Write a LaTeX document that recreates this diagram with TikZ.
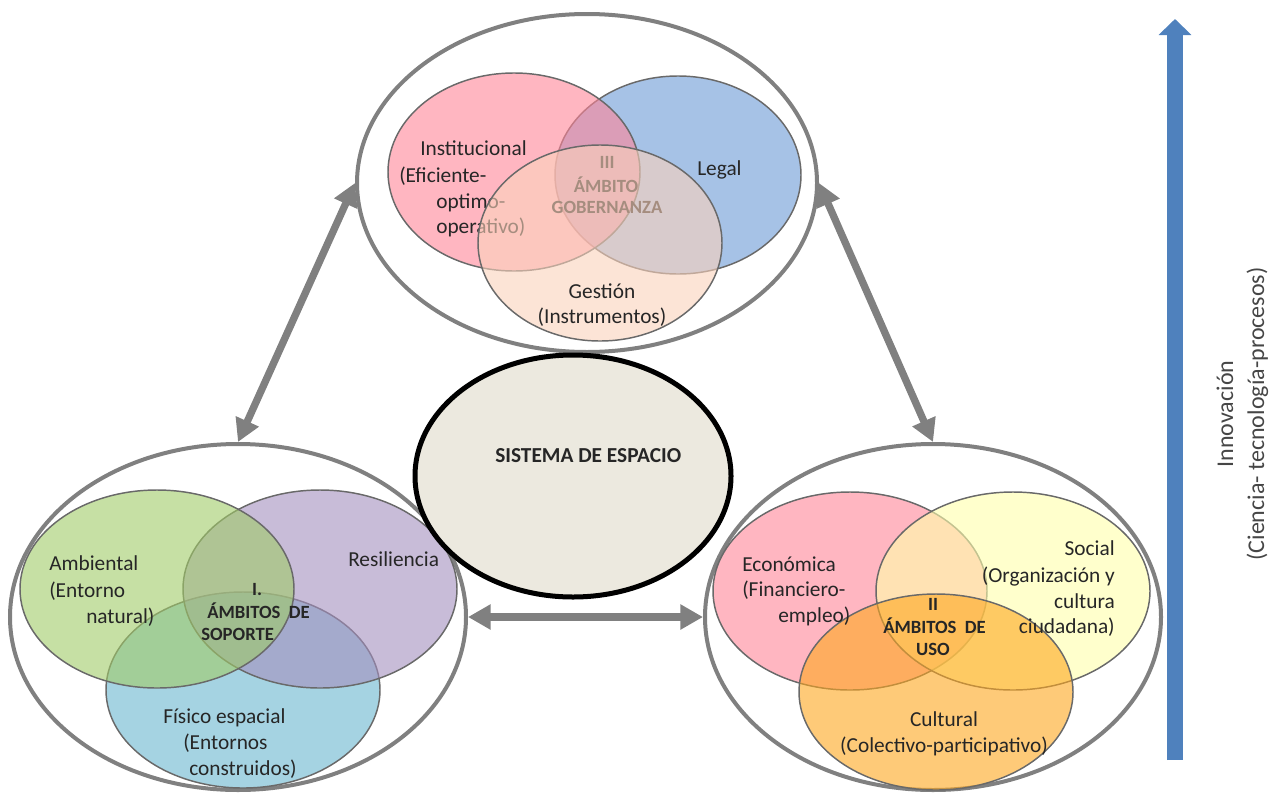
\documentclass[tikz,border=0pt]{standalone}
\usepackage{fontspec}
\setmainfont{Carlito}
\usetikzlibrary{shapes.geometric,arrows.meta}

\definecolor{outergray}{RGB}{128,128,128}
\definecolor{innerline}{RGB}{105,105,105}
\definecolor{cPink}{RGB}{255,133,152}
\definecolor{cBlue}{RGB}{107,153,213}
\definecolor{cPeach}{RGB}{250,210,187}
\definecolor{cGreen}{RGB}{160,203,103}
\definecolor{cPurple}{RGB}{163,143,190}
\definecolor{cSky}{RGB}{105,182,207}
\definecolor{cYellow}{RGB}{255,255,170}
\definecolor{cOrange}{RGB}{254,167,30}
\definecolor{centerfill}{RGB}{236,233,223}
\definecolor{txt}{RGB}{38,38,38}
\definecolor{innovtxt}{RGB}{70,70,70}
\definecolor{innov}{RGB}{79,129,189}

\tikzset{
  outerell/.style={ellipse, draw=outergray, line width=3pt, inner sep=0pt},
  venn/.style={ellipse, draw=innerline, line width=1.1pt, fill opacity=0.6, inner sep=0pt},
  lbl/.style={font=\fontsize{16}{19}\selectfont, text=txt, inner sep=0pt},
  blbl/.style={font=\bfseries\fontsize{14}{17}\selectfont, text=txt, inner sep=0pt},
  link/.style={draw=outergray, line width=5.5pt,
    {Triangle[length=17pt,width=18pt]}-{Triangle[length=17pt,width=18pt]}},
}

\begin{document}
\begin{tikzpicture}[x=0.75pt,y=-0.75pt]
\useasboundingbox (0,0) rectangle (1280,796);

% ---------- top group: gobernanza ----------
\node[outerell, minimum width=345pt, minimum height=253.5pt] (gov) at (587,183) {};
\node[venn, fill=cBlue, minimum width=184.5pt, minimum height=148.5pt] (legal) at (678,175) {};
\node[venn, fill=cPink, minimum width=189pt, minimum height=148.5pt] (inst) at (514,172) {};
\node[lbl, anchor=base west] (instA) at (420,155) {Institucional};
\node[lbl, anchor=base west] (instB) at (399,182) {(Eficiente-};
\node[lbl, anchor=base west] (instC) at (436,208) {optimo-};
\node[lbl, anchor=base west] (instD) at (436,233) {operativo)};
\node[lbl, anchor=base west] (legalT) at (697,175) {Legal};
\node[blbl, anchor=base] (govA) at (607,168) {III};
\node[blbl, anchor=base] (govB) at (606,192) {ÁMBITO};
\node[blbl, anchor=base] (govC) at (607,213) {GOBERNANZA};
\node[venn, fill=cPeach, minimum width=183pt, minimum height=147pt] (gest) at (600,243) {};
\node[lbl, anchor=base] (gestA) at (602,298) {Gestión};
\node[lbl, anchor=base] (gestB) at (602,323) {(Instrumentos)};

% ---------- left group: soporte ----------
\node[outerell, minimum width=342pt, minimum height=259.5pt] (sop) at (238,617) {};
\node[venn, fill=cSky, minimum width=205.5pt, minimum height=147pt] (fis) at (243,690) {};
\node[venn, fill=cPurple, minimum width=205.5pt, minimum height=148.5pt] (res) at (320,589) {};
\node[venn, fill=cGreen, minimum width=205.5pt, minimum height=148.5pt] (amb) at (157,589) {};
\node[lbl, anchor=base west] (ambA) at (49,570) {Ambiental};
\node[lbl, anchor=base west] (ambB) at (49,597) {(Entorno};
\node[lbl, anchor=base west] (ambC) at (86,623) {natural)};
\node[lbl, anchor=base west] (resT) at (348,566) {Resiliencia};
\node[blbl, anchor=base] (sopA) at (257,595) {I.};
\node[blbl, anchor=base west] (sopB) at (207,618) {ÁMBITOS\ \ DE};
\node[blbl, anchor=base west] (sopC) at (201,640) {SOPORTE};
\node[lbl, anchor=base west] (fisA) at (163,723) {Físico espacial};
\node[lbl, anchor=base west] (fisB) at (183,749) {(Entornos};
\node[lbl, anchor=base west] (fisC) at (189,775) {construidos)};

% ---------- right group: uso ----------
\node[outerell, minimum width=342pt, minimum height=259.5pt] (uso) at (933,617) {};
\node[venn, fill=cPink, minimum width=205.5pt, minimum height=148.5pt] (eco) at (850,591) {};
\node[venn, fill=cYellow, minimum width=205.5pt, minimum height=148.5pt] (soc) at (1013,591) {};
\node[venn, fill=cOrange, minimum width=205.5pt, minimum height=147pt] (cul) at (936,692) {};
\node[lbl, anchor=base west] (ecoA) at (742,571) {Económica};
\node[lbl, anchor=base west] (ecoB) at (742,596) {(Financiero-};
\node[lbl, anchor=base west] (ecoC) at (778,622) {empleo)};
\node[lbl, anchor=base east] (socA) at (1115,555) {Social};
\node[lbl, anchor=base east] (socB) at (1115,582) {(Organización y};
\node[lbl, anchor=base east] (socC) at (1115,608) {cultura};
\node[lbl, anchor=base east] (socD) at (1115,633) {ciudadana)};
\node[blbl, anchor=base] (usoA) at (933,610) {II};
\node[blbl, anchor=base west] (usoB) at (883,633) {ÁMBITOS\ \ DE};
\node[blbl, anchor=base] (usoC) at (933,655) {USO};
\node[lbl, anchor=base] (culA) at (944,726) {Cultural};
\node[lbl, anchor=base] (culB) at (944,752) {(Colectivo-participativo)};

% ---------- centre ----------
\node[ellipse, draw=black, line width=3.75pt, fill=centerfill, inner sep=0pt,
      minimum width=237pt, minimum height=181.5pt] (sis) at (573,476) {};
\node[font=\bfseries\fontsize{16}{19}\selectfont, text=txt, inner sep=0pt, anchor=base west]
      (sisT) at (495,462) {SISTEMA DE ESPACIO};

% ---------- connectors ----------
\draw[link] (gov.west) -- (sop.north);
\draw[link] (gov.east) -- (uso.north);
\draw[link] (sop.east) -- (uso.west);

% ---------- innovation arrow ----------
\coordinate (innB) at (1175,760);
\coordinate (innT) at (1175,19);
\draw[innov, line width=12pt, -{Triangle[length=12pt,width=24pt]}] (innB) -- (innT);
\node[rotate=90, anchor=base, inner sep=0pt, text=innovtxt, font=\fontsize{18}{22}\selectfont]
      (innov1) at (1233,414) {Innovación};
\node[rotate=90, anchor=base, inner sep=0pt, text=innovtxt, font=\fontsize{18}{22}\selectfont]
      (innov2) at (1264,414) {(Ciencia- tecnología-procesos)};
\end{tikzpicture}
\end{document}
